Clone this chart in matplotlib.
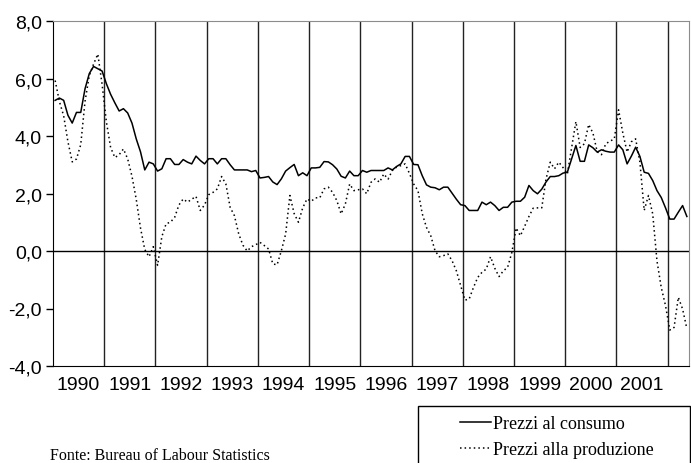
import matplotlib
matplotlib.use('Agg')
import matplotlib.pyplot as plt
from matplotlib.patches import Rectangle
import numpy as np

# inflazione USA, variazioni % annue, dati mensili gen 1990 - mag 2002
years = [1990, 1991, 1992, 1993, 1994, 1995, 1996, 1997, 1998, 1999, 2000, 2001]

consumo = [
    5.24, 5.32, 5.24, 4.72, 4.45, 4.82, 4.82, 5.64, 6.17, 6.42, 6.34, 6.26,
    5.82, 5.45, 5.15, 4.87, 4.95, 4.80, 4.45, 3.90, 3.45, 2.82, 3.09, 3.03,
    2.78, 2.86, 3.21, 3.21, 3.01, 3.01, 3.18, 3.09, 3.03, 3.30, 3.15, 3.03,
    3.21, 3.21, 3.03, 3.21, 3.21, 3.00, 2.82, 2.82, 2.82, 2.82, 2.76, 2.80,
    2.54, 2.56, 2.59, 2.40, 2.31, 2.51, 2.78, 2.90, 3.01, 2.62, 2.72, 2.62,
    2.89, 2.89, 2.91, 3.11, 3.10, 3.00, 2.85, 2.60, 2.54, 2.78, 2.62, 2.62,
    2.80, 2.74, 2.80, 2.80, 2.80, 2.80, 2.89, 2.82, 2.94, 3.03, 3.29, 3.29,
    3.01, 3.00, 2.62, 2.30, 2.22, 2.20, 2.13, 2.22, 2.22, 2.01, 1.80, 1.61,
    1.58, 1.41, 1.41, 1.41, 1.70, 1.61, 1.70, 1.58, 1.41, 1.52, 1.52, 1.70,
    1.73, 1.73, 1.87, 2.28, 2.10, 1.99, 2.15, 2.40, 2.59, 2.59, 2.62, 2.71,
    2.74, 3.20, 3.67, 3.12, 3.12, 3.69, 3.59, 3.44, 3.52, 3.47, 3.44, 3.44,
    3.69, 3.52, 3.03, 3.30, 3.61, 3.29, 2.74, 2.70, 2.45, 2.10, 1.86, 1.50,
    1.11, 1.11, 1.35, 1.58, 1.20,
]

produzione = [
    5.93, 5.20, 4.70, 3.80, 3.10, 3.20, 3.70, 5.20, 6.10, 6.50, 6.85, 5.80,
    4.50, 3.60, 3.25, 3.35, 3.55, 3.20, 2.60, 1.80, 0.80, 0.05, -0.20, 0.15,
    -0.50, 0.50, 0.95, 1.00, 1.17, 1.60, 1.81, 1.70, 1.80, 1.90, 1.41, 1.60,
    1.96, 2.04, 2.16, 2.59, 2.33, 1.52, 1.23, 0.60, 0.20, 0.00, 0.15, 0.22,
    0.30, 0.19, 0.07, -0.45, -0.48, 0.01, 0.59, 1.93, 1.30, 1.00, 1.50, 1.81,
    1.73, 1.85, 1.85, 2.16, 2.22, 2.04, 1.75, 1.29, 1.64, 2.33, 2.10, 2.13,
    2.16, 1.99, 2.39, 2.51, 2.39, 2.68, 2.50, 2.80, 2.92, 2.97, 3.03, 2.70,
    2.33, 2.10, 1.30, 0.82, 0.53, 0.01, -0.20, -0.16, -0.10, -0.34, -0.69, -1.20,
    -1.71, -1.67, -1.27, -0.92, -0.74, -0.63, -0.20, -0.60, -0.89, -0.69, -0.57, -0.05,
    0.80, 0.53, 0.86, 1.20, 1.49, 1.50, 1.50, 2.50, 3.09, 2.86, 3.09, 2.90,
    2.68, 3.60, 4.50, 3.60, 3.73, 4.40, 4.10, 3.45, 3.35, 3.73, 3.82, 3.90,
    4.91, 4.10, 3.44, 3.80, 3.90, 3.09, 1.41, 1.93, 1.29, -0.35, -1.27, -1.90,
    -2.75, -2.66, -1.61, -2.02, -2.70,
]

yticks = [-4, -2, 0, 2, 4, 6, 8]
ylabels = ['-4,0', '-2,0', '0,0', '2,0', '4,0', '6,0', '8,0']

sans = ['Liberation Sans Narrow', 'Liberation Sans', 'DejaVu Sans']
serif = ['Liberation Serif', 'DejaVu Serif']

fig = plt.figure(figsize=(6.91, 4.64), dpi=100)
ax = fig.add_axes([53/691, 97/464, 636/691, 345/464])

t = np.arange(len(consumo))
ax.plot(t, consumo, color='black', lw=1.1, label='Prezzi al consumo')
ax.plot(t, produzione, color='black', lw=1.1, ls=(0, (1, 2)),
        label='Prezzi alla produzione')

for k in range(1, len(years) + 1):
    ax.axvline(12*k - 0.5, color='#222222', lw=1.0, zorder=0)
ax.axhline(0, color='black', lw=1.0, zorder=0)

ax.set_xlim(-0.5, len(consumo) - 0.5)
ax.set_ylim(-4, 8)
ax.set_yticks(yticks)
ax.set_yticklabels(ylabels, family=sans, fontsize=14)
ax.set_xticks([12*k + 5.5 for k in range(len(years))])
ax.set_xticklabels([str(y) for y in years], family=sans, fontsize=14)
ax.tick_params(axis='x', length=0, pad=7)
ax.tick_params(axis='y', length=5, width=1, pad=3)

ax.spines['left'].set_color('black')
ax.spines['bottom'].set_color('black')
ax.spines['top'].set_color('#8c8c8c')
ax.spines['right'].set_color('#8c8c8c')

fig.text(50/691, 4/464, 'Fonte: Bureau of Labour Statistics',
         family=serif, fontsize=11.5, va='baseline')

fig.patches.append(Rectangle((418/691, -0.05), 272/691, 0.05 + 57/464,
                             transform=fig.transFigure, fill=False,
                             edgecolor='black', lw=1.0))
fig.legend(loc='upper left', bbox_to_anchor=(460/691, 48/464),
           frameon=False, borderpad=0, borderaxespad=0, handlelength=1.7,
           handletextpad=0.15, labelspacing=0.5,
           prop={'family': serif, 'size': 13})

fig.savefig('out.png', dpi=100)
